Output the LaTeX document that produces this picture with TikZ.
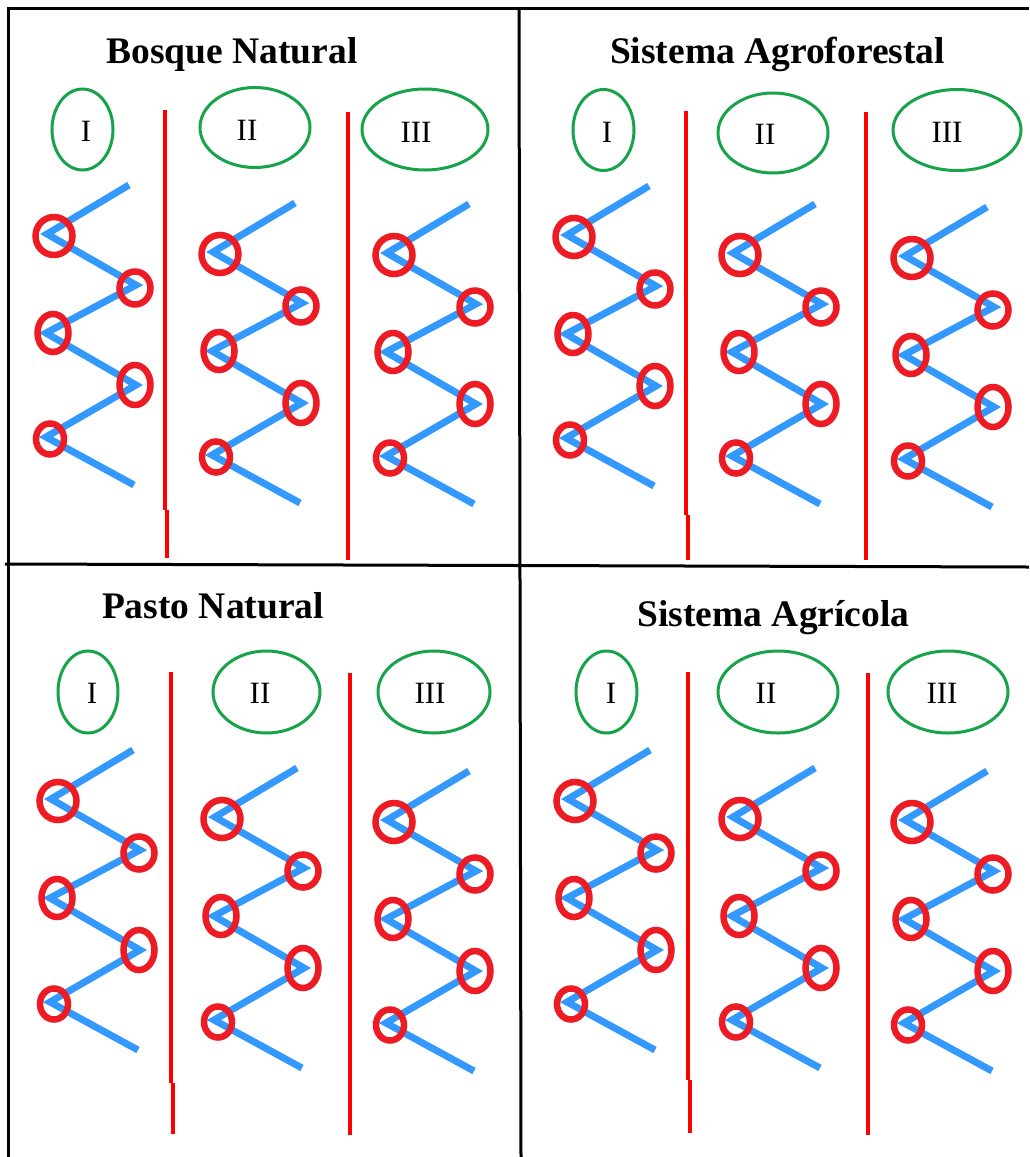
\documentclass[tikz,border=0pt]{standalone}
\usepackage{fontspec}
\setmainfont{Liberation Serif}
\usetikzlibrary{shapes.geometric}
\definecolor{zblue}{RGB}{51,153,255}
\definecolor{zred}{RGB}{237,28,36}
\definecolor{zgreen}{RGB}{22,163,74}
\definecolor{divred}{RGB}{255,0,0}
\tikzset{
 frameline/.style={line width=3pt, black},
 divider/.style={line width=4.5pt, divred},
 zline/.style={line width=7pt, zblue, line join=miter, miter limit=10},
 ring/.style={ellipse, draw=zred, line width=6.5pt, inner sep=0pt},
 greenell/.style={ellipse, draw=zgreen, line width=3pt, inner sep=0pt},
 paneltitle/.style={font=\fontsize{37.5}{40}\selectfont\bfseries, anchor=base, inner sep=0pt},
 numtxt/.style={font=\fontsize{31}{33}\selectfont, anchor=base, inner sep=0pt},
}
% #1 name prefix, #2,#3 position of first (upper-left) vertex
\newcommand\zigzagat[3]{%
 \begin{scope}[shift={(#2,#3)}]
  \coordinate (#1t) at (82,-49);
  \coordinate (#1a) at (0,0);
  \coordinate (#1b) at (89,51);
  \coordinate (#1c) at (-1,99);
  \coordinate (#1d) at (89,151);
  \coordinate (#1e) at (-1,203);
  \coordinate (#1z) at (87,251);
  \draw[zline] (#1t) -- (#1a) -- (#1b) -- (#1c) -- (#1d) -- (#1e) -- (#1z);
  \node[ring, minimum width=37pt, minimum height=38pt] (#1A) at (7,2) {};
  \node[ring, minimum width=31pt, minimum height=33pt] (#1B) at (88,54) {};
  \node[ring, minimum width=31pt, minimum height=38pt] (#1C) at (6,99) {};
  \node[ring, minimum width=31pt, minimum height=40pt] (#1D) at (88,151) {};
  \node[ring, minimum width=28pt, minimum height=31pt] (#1E) at (3,205) {};
 \end{scope}}
\begin{document}
\begin{tikzpicture}[x=1pt, y=-1pt]
\useasboundingbox[fill=white] (0,0) rectangle (1029,1157);

% frame
\coordinate (ftl) at (8,8);
\coordinate (ftr) at (1029,8);
\coordinate (fbl) at (8,1157);
\coordinate (mvt) at (519,8);
\coordinate (mvb) at (521,1157);
\coordinate (mhl) at (5,564);
\coordinate (mhr) at (1029,567);
\draw[frameline] (ftr) -- (ftl) -- (fbl);
\draw[frameline] (mvt) -- (mvb);
\draw[frameline] (mhl) -- (mhr);

% titles
\node[paneltitle] (t1) at (232,63) {Bosque Natural};
\node[paneltitle] (t2) at (777.5,63) {Sistema Agroforestal};
\node[paneltitle] (t3) at (213,618) {Pasto Natural};
\node[paneltitle] (t4) at (773.5,626) {Sistema Agrícola};

% green ellipses and numerals
\node[greenell, minimum width=61pt, minimum height=81pt] (p1e1) at (82.5,129.5) {};
\node[greenell, minimum width=110pt, minimum height=80pt] (p1e2) at (255,127.5) {};
\node[greenell, minimum width=126pt, minimum height=81pt] (p1e3) at (425,129.5) {};
\node[numtxt] (p1n1) at (86,141) {I};
\node[numtxt] (p1n2) at (247,140) {II};
\node[numtxt] (p1n3) at (416,142) {III};

\node[greenell, minimum width=61pt, minimum height=81pt] (p2e1) at (603.5,130) {};
\node[greenell, minimum width=110pt, minimum height=80pt] (p2e2) at (773,133) {};
\node[greenell, minimum width=128pt, minimum height=81pt] (p2e3) at (957,130) {};
\node[numtxt] (p2n1) at (607,142) {I};
\node[numtxt] (p2n2) at (765,144) {II};
\node[numtxt] (p2n3) at (947,142) {III};

\node[greenell, minimum width=60pt, minimum height=82pt] (p3e1) at (88,692) {};
\node[greenell, minimum width=107pt, minimum height=82pt] (p3e2) at (266.5,692) {};
\node[greenell, minimum width=112pt, minimum height=82pt] (p3e3) at (434,692) {};
\node[numtxt] (p3n1) at (92,703) {I};
\node[numtxt] (p3n2) at (260,703) {II};
\node[numtxt] (p3n3) at (430,703) {III};

\node[greenell, minimum width=61pt, minimum height=82pt] (p4e1) at (606.5,692) {};
\node[greenell, minimum width=120pt, minimum height=82pt] (p4e2) at (778,692) {};
\node[greenell, minimum width=120pt, minimum height=82pt] (p4e3) at (948,692) {};
\node[numtxt] (p4n1) at (611,703) {I};
\node[numtxt] (p4n2) at (766,703) {II};
\node[numtxt] (p4n3) at (942,703) {III};

% red dividers
\draw[divider] (165,110) -- (165,510);
\draw[divider] (167,510) -- (167,558);
\draw[divider] (348,112) -- (348,560);
\draw[divider] (686,111) -- (686,515);
\draw[divider] (688,515) -- (688,560);
\draw[divider] (866,112) -- (866,560);
\draw[divider] (171,672) -- (171,1083);
\draw[divider] (173,1083) -- (173,1134);
\draw[divider] (350,673) -- (350,1135);
\draw[divider] (688,672) -- (688,1080);
\draw[divider] (690,1080) -- (690,1133);
\draw[divider] (868,673) -- (868,1135);

% zigzags
\zigzagat{za}{47}{234}
\zigzagat{zb}{213}{252}
\zigzagat{zc}{387}{253}
\zigzagat{zd}{567}{235}
\zigzagat{ze}{733}{253}
\zigzagat{zf}{905}{256}
\zigzagat{zg}{51}{799}
\zigzagat{zh}{215}{817}
\zigzagat{zi}{387}{820}
\zigzagat{zj}{568}{799}
\zigzagat{zk}{733}{817}
\zigzagat{zl}{905}{820}
\end{tikzpicture}
\end{document}
